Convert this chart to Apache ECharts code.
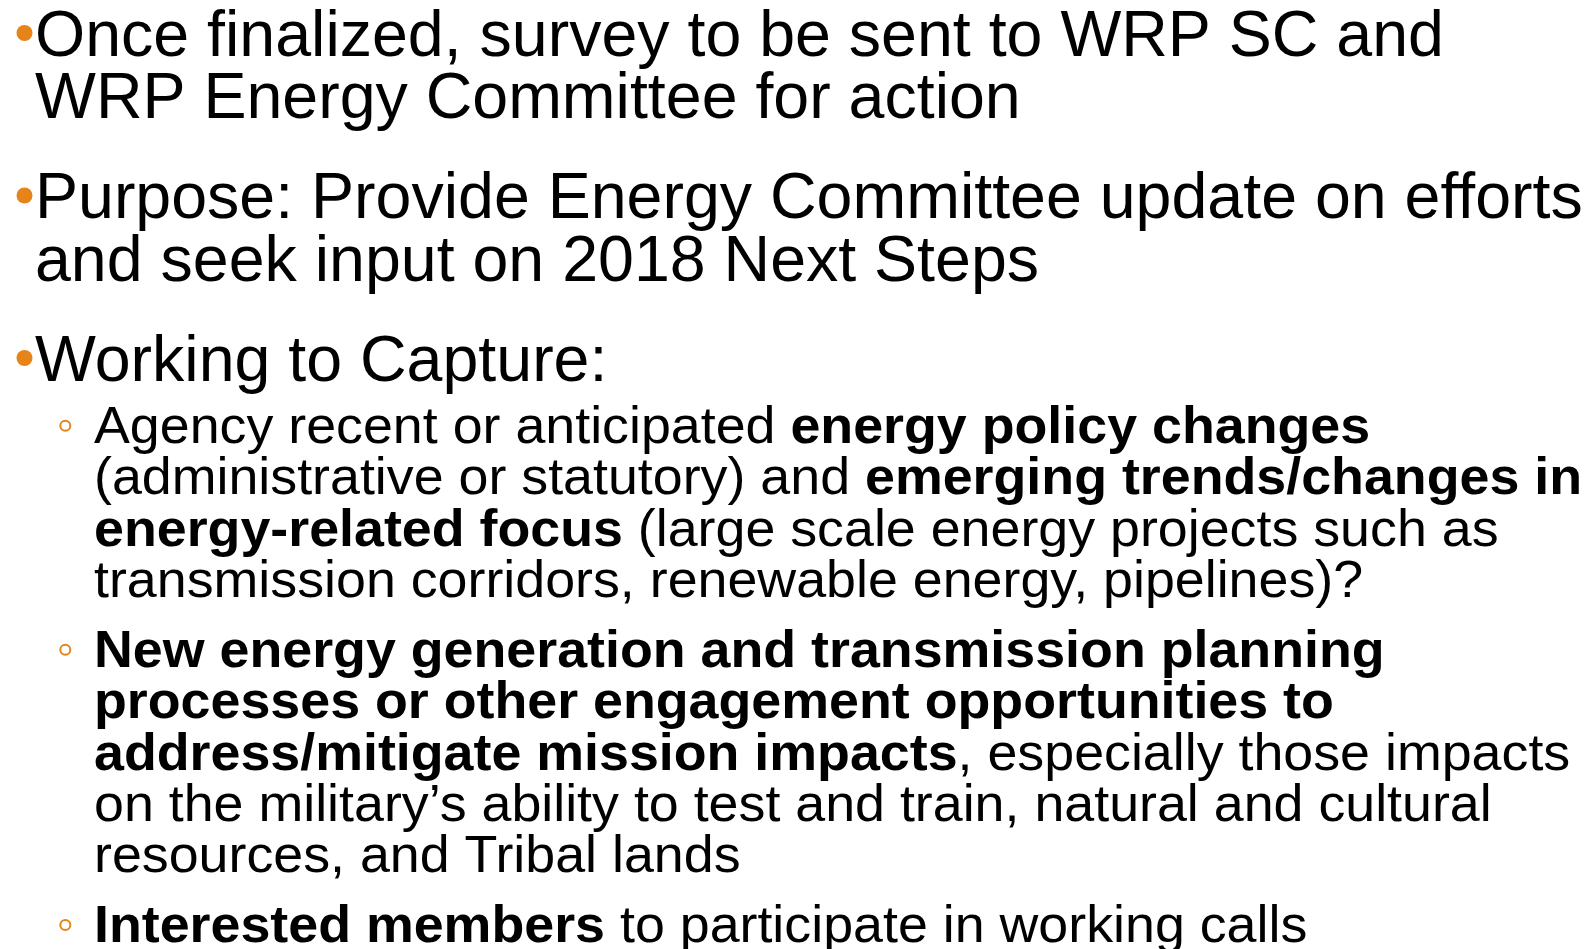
<!DOCTYPE html>
<html>
<head>
<meta charset="utf-8">
<script src="https://cdn.jsdelivr.net/npm/echarts@6/dist/echarts.min.js"></script>
<style>
html,body{margin:0;padding:0;background:#fff;}
#c{width:1594px;height:949px;}
</style>
</head>
<body>
<div id="c"></div>
<script>
// Slide content (text only)
const level1Items = [
  ["Once finalized, survey to be sent to WRP SC and", "WRP Energy Committee for action"],
  ["Purpose: Provide Energy Committee update on efforts", "and seek input on 2018 Next Steps"],
  ["Working to Capture:"]
];
const level2Items = [
  ["Agency recent or anticipated {b|energy policy changes}",
   "(administrative or statutory) and {b|emerging trends/changes in}",
   "{b|energy-related focus} (large scale energy projects such as",
   "transmission corridors, renewable energy, pipelines)?"],
  ["{b|New energy generation and transmission planning}",
   "{b|processes or other engagement opportunities to}",
   "{b|address/mitigate mission impacts}, especially those impacts",
   "on the military\u2019s ability to test and train, natural and cultural",
   "resources, and Tribal lands"],
  ["{b|Interested members} to participate in working calls"]
];

const chart = echarts.init(document.getElementById('c'), null, {renderer: 'canvas'});
const FONT = '"Liberation Sans", Arial, sans-serif';
const ORANGE = '#E6841A';
const L1 = {fs: 64.5, sx: 1, pitch: 62.5, gap: 37.5, x: 35, bx: 24.5, br: 8, boff: 23, start: 56};
const L2 = {fs: 52, sx: 1.034, pitch: 51.3, gap: 18.7, x: 94, bx: 65.3, br: 5, boff: 17.5, start: 443.3};
const MID = 0.28;

const g = [];
function addLine(str, cfg, baseline) {
  g.push({
    type: 'text', x: cfg.x, y: baseline - MID * cfg.fs, scaleX: cfg.sx, scaleY: 1,
    style: {
      text: str, fontSize: cfg.fs, fontFamily: FONT, fill: '#000',
      verticalAlign: 'middle', align: 'left', lineHeight: cfg.fs,
      rich: { b: { fontWeight: 'bold', fontSize: cfg.fs, fontFamily: FONT, fill: '#000', lineHeight: cfg.fs } }
    }
  });
}
function addList(items, cfg, filled) {
  let base = cfg.start;
  items.forEach((item, i) => {
    if (i > 0) base += cfg.gap;
    g.push({type: 'circle', shape: {cx: cfg.bx, cy: base - cfg.boff, r: cfg.br},
      style: filled ? {fill: ORANGE} : {fill: 'none', stroke: ORANGE, lineWidth: 2}});
    item.forEach((ln) => { addLine(ln, cfg, base); base += cfg.pitch; });
  });
}
addList(level1Items, L1, true);
addList(level2Items, L2, false);

chart.setOption({backgroundColor: '#fff', animation: false, graphic: g});
</script>
</body>
</html>
